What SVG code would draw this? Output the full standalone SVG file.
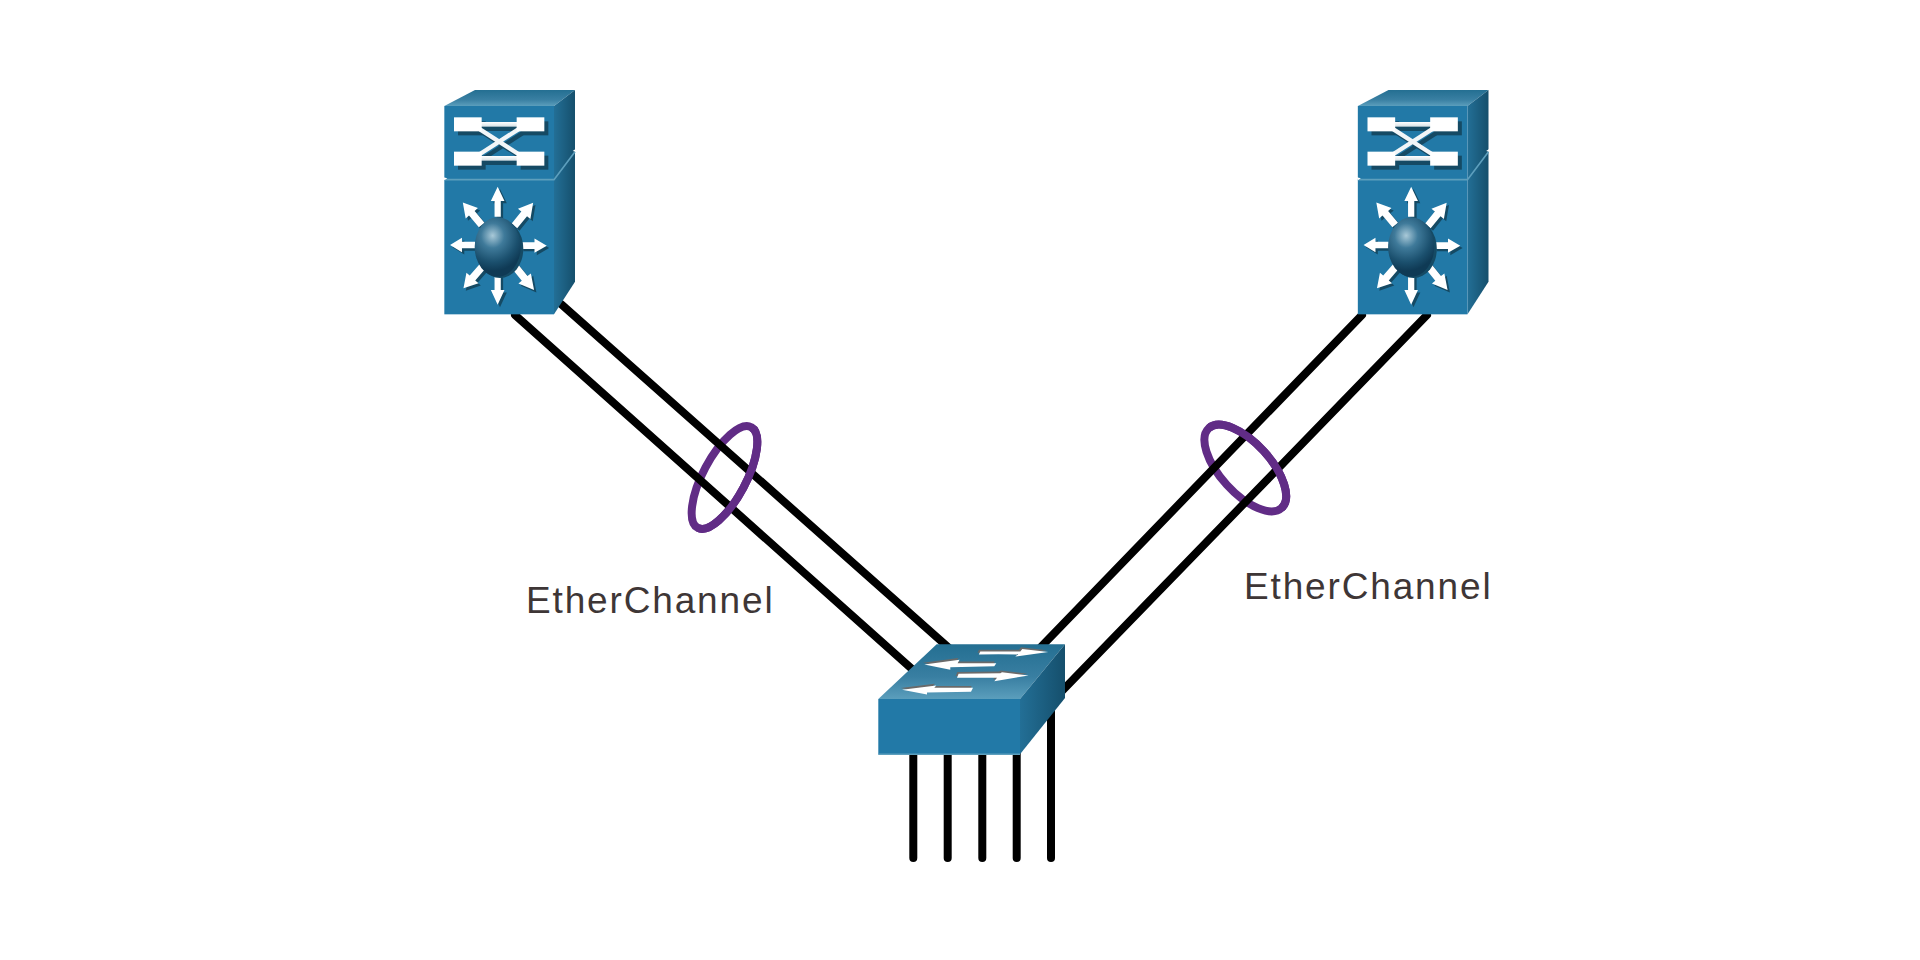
<svg xmlns="http://www.w3.org/2000/svg" xmlns:xlink="http://www.w3.org/1999/xlink" width="1920" height="960" viewBox="0 0 1920 960">
<style>
.link{fill:none;stroke:#000;stroke-width:8;stroke-linecap:round}
.ring{fill:none;stroke:#612c86;stroke-width:8}
.label{font-family:"Liberation Sans",Arial,sans-serif;font-size:37px;letter-spacing:1.85px;fill:#3e3636}
.front{fill:#2279a7}
.edge{fill:none;stroke:#5d9fbd;stroke-width:1.5}
.wh{fill:#fff}
.sh{fill:#154a64}
.ar{fill:#fff}
.xs{stroke:#154a64;stroke-width:13;fill:none}
.xw{stroke:#f2f6f8;stroke-width:13;fill:none}
</style>
<defs>
<linearGradient id="topG" x1="0" y1="0" x2="0" y2="1"><stop offset="0" stop-color="#246f92"/><stop offset=".6" stop-color="#397fa2"/><stop offset="1" stop-color="#5b9ebc"/></linearGradient>
<linearGradient id="sideG" x1="0" y1="0" x2="1" y2="0"><stop offset="0" stop-color="#236f96"/><stop offset="1" stop-color="#154f6c"/></linearGradient>
<linearGradient id="barG" x1="0" y1="0" x2="0" y2="1"><stop offset="0" stop-color="#fff"/><stop offset="1" stop-color="#d6e1e6"/></linearGradient>
<radialGradient id="ball" gradientUnits="userSpaceOnUse" cx="218" cy="497" r="100" gradientTransform="translate(0 -30) scale(1 1.06)"><stop offset="0" stop-color="#a9c9d8"/><stop offset=".35" stop-color="#3f7a9a"/><stop offset=".75" stop-color="#1b506e"/><stop offset="1" stop-color="#0f3a55"/></radialGradient>
<path id="arw" d="M-11,0V-46H-24L0,-88L24,-46H11V0Z"/>
<g id="eight">
<use xlink:href="#arw" transform="translate(233,440) scale(.85,1.02)"/>
<use xlink:href="#arw" transform="translate(233,612) rotate(180) scale(.85,1.05)"/>
<use xlink:href="#arw" transform="translate(165,525) rotate(-90) scale(.9,.85)"/>
<use xlink:href="#arw" transform="translate(303,527) rotate(90) scale(.9,.88)"/>
<use xlink:href="#arw" transform="translate(185,465) rotate(-40)"/>
<use xlink:href="#arw" transform="translate(283,468) rotate(39) scale(1,1.02)"/>
<use xlink:href="#arw" transform="translate(187,590) rotate(-139) scale(1,.98)"/>
<use xlink:href="#arw" transform="translate(283,587) rotate(141) scale(1,1.07)"/>
</g>
<g id="router">
<polygon points="73,108 165,60 465,60 402,108" fill="url(#topG)"/>
<polygon points="402,108 465,60 465,635 402,733" fill="url(#sideG)"/>
<rect class="front" x="73" y="108" width="329" height="625"/>
<polyline class="edge" points="73,329 402,329 465,245" style="stroke-width:5"/>
<polygon class="wh" points="70,322 82,325 73,331"/>
<polygon class="wh" points="458,243 468,236 468,245"/>
<g class="sh">
<rect x="114" y="154" width="83" height="42"/><rect x="302" y="154" width="83" height="42"/>
<rect x="114" y="257" width="83" height="42"/><rect x="302" y="257" width="83" height="42"/>
<rect x="185" y="168" width="115" height="15"/><rect x="185" y="270" width="115" height="15"/>
</g>
<line class="xs" x1="192" y1="190" x2="307" y2="264"/>
<line class="xs" x1="192" y1="264" x2="307" y2="190"/>
<rect x="180" y="156" width="115" height="14" fill="url(#barG)"/>
<rect x="180" y="258" width="115" height="14" fill="url(#barG)"/>
<line class="xw" x1="180" y1="178" x2="295" y2="252"/>
<line class="xw" x1="180" y1="252" x2="295" y2="178"/>
<rect class="wh" x="102" y="142" width="83" height="42"/><rect class="wh" x="290" y="142" width="83" height="42"/>
<rect class="wh" x="102" y="245" width="83" height="42"/><rect class="wh" x="290" y="245" width="83" height="42"/>
<use xlink:href="#eight" class="sh" transform="translate(7,7)"/>
<use xlink:href="#eight" class="wh"/>
<ellipse cx="240" cy="536" rx="70" ry="88" class="sh"/>
<ellipse cx="233" cy="531" rx="69" ry="89" fill="url(#ball)"/>
</g>
</defs>
<rect width="1920" height="960" fill="#fff"/>
<g id="rings-under">
<ellipse class="ring" cx="724.5" cy="477.5" rx="21.5" ry="57" transform="rotate(28 724.5 477.5)"/>
<ellipse class="ring" cx="1245.3" cy="468" rx="25" ry="54" transform="rotate(-42.4 1245.3 468)"/>
</g>
<g id="connectors">
<line class="link" x1="515" y1="315" x2="912" y2="669"/>
<line class="link" x1="561" y1="304" x2="949" y2="648"/>
<line class="link" x1="1362" y1="315" x2="1038" y2="650"/>
<line class="link" x1="1427" y1="315" x2="1062" y2="691"/>
<line class="link" x1="913.3" y1="750" x2="913.3" y2="858"/>
<line class="link" x1="947.7" y1="750" x2="947.7" y2="858"/>
<line class="link" x1="982.3" y1="750" x2="982.3" y2="858"/>
<line class="link" x1="1016.7" y1="750" x2="1016.7" y2="858"/>
<line class="link" x1="1051" y1="700" x2="1051" y2="858"/>
</g>
<g id="rings-over">
<path class="ring" d="M0,-57A21.5,57 0 0 1 0,57" transform="translate(724.5 477.5) rotate(28)"/>
<path class="ring" d="M0,-54A25,54 0 0 1 0,54" transform="translate(1245.3 468) rotate(-42.4)"/>
</g>
<g id="router-left" transform="translate(420,70) scale(.33333)"><use xlink:href="#router"/></g>
<g id="router-right" transform="translate(1333.5,70) scale(.33333)"><use xlink:href="#router"/></g>
<g id="switch">
<polygon points="936.7,644.3 1065,644.3 1020,699 878.3,699" fill="url(#topG)"/>
<polygon points="1020,699 1065,644.3 1065,698 1020,754.3" fill="url(#sideG)"/>
<rect class="front" x="878.3" y="699" width="141.7" height="55.3"/>
<polyline class="edge" points="878.3,754.3 1020,754.3"/>
<g fill="#6a6a6a" transform="translate(-1,-1.3)">
<polygon points="980,651 1020,651 1022,648.5 1048,651.5 1015,656 1018,653.5 978.5,654"/>
<polygon points="924,664 959.3,659.3 957.3,662.7 996,662.7 994,665.7 950,666.7 950,669.3"/>
<polygon points="958.3,673.3 1000,672.7 1001.7,671.7 1028.3,675 994,680.7 996.7,677.3 956.7,677.3"/>
<polygon points="901.7,689.3 936,685 934,687.3 972.7,687.3 970.7,691.3 926.7,692 926.7,694"/>
</g>
<g class="ar" transform="translate(.3,.5)">
<polygon points="980,651 1020,651 1022,648.5 1048,651.5 1015,656 1018,653.5 978.5,654"/>
<polygon points="924,664 959.3,659.3 957.3,662.7 996,662.7 994,665.7 950,666.7 950,669.3"/>
<polygon points="958.3,673.3 1000,672.7 1001.7,671.7 1028.3,675 994,680.7 996.7,677.3 956.7,677.3"/>
<polygon points="901.7,689.3 936,685 934,687.3 972.7,687.3 970.7,691.3 926.7,692 926.7,694"/>
</g>
</g>
<text class="label" x="526" y="613">EtherChannel</text>
<text class="label" x="1244" y="599">EtherChannel</text>
</svg>
